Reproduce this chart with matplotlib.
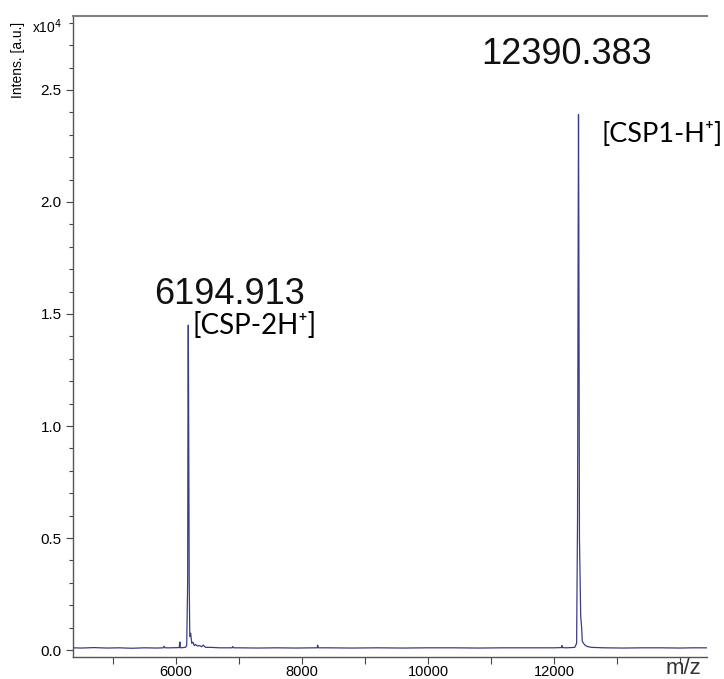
import numpy as np
import matplotlib
matplotlib.use("Agg")
import matplotlib.pyplot as plt
from matplotlib.ticker import MultipleLocator, FixedLocator, FormatStrFormatter

# spectrum (m/z, intensity in 1e4 a.u.)
MZ = [4360, 4500, 4700, 4900, 5100, 5300, 5500, 5700, 5800, 5810, 5830, 5900,
      6050, 6062, 6068, 6075, 6150, 6170, 6185, 6190, 6195, 6200, 6210, 6218,
      6224, 6232, 6250, 6270, 6290, 6310, 6340, 6370, 6410, 6430, 6470, 6550,
      6700, 6890, 6900, 6915, 7000, 7300, 7600, 7900, 8200, 8240, 8250, 8262,
      8400, 8800, 9200, 9600, 10000, 10400, 10800, 11200, 11600, 12000, 12120,
      12128, 12136, 12200, 12330, 12360, 12375, 12385, 12390, 12395, 12405,
      12425, 12440, 12450, 12470, 12500, 12540, 12600, 12800, 13100, 13400,
      13700, 14000, 14200, 14430]
INT = [0.010, 0.009, 0.011, 0.009, 0.010, 0.008, 0.010, 0.009, 0.010, 0.017, 0.010, 0.010,
       0.011, 0.036, 0.011, 0.010, 0.012, 0.020, 0.300, 1.100, 1.450, 1.100, 0.300, 0.080,
       0.060, 0.075, 0.030, 0.035, 0.020, 0.025, 0.018, 0.020, 0.015, 0.022, 0.012, 0.012,
       0.010, 0.010, 0.016, 0.010, 0.010, 0.009, 0.010, 0.009, 0.010, 0.010, 0.022, 0.010,
       0.010, 0.009, 0.010, 0.009, 0.010, 0.010, 0.009, 0.010, 0.010, 0.010, 0.011,
       0.020, 0.011, 0.010, 0.012, 0.030, 0.600, 1.900, 2.390, 1.900, 0.500,
       0.150, 0.100, 0.040, 0.030, 0.020, 0.015, 0.012, 0.010, 0.009, 0.010,
       0.010, 0.009, 0.010, 0.010]

PEAKS = [6194.913, 12390.383]
PEAK_LABELS = ["[CSP-2H\u207a]", "[CSP1-H\u207a]"]
XTICKS = [6000, 8000, 10000, 12000]

fig = plt.figure(figsize=(7.24, 6.79), dpi=100)
ax = fig.add_axes([72.7 / 724, 1 - 657 / 679, (707 - 72.7) / 724, (657 - 16) / 679])
ax.plot(MZ, INT, color="#3a3d84", lw=0.9)

ax.set_xlim(4360, 14430)
ax.set_ylim(-0.031, 2.83)
ax.xaxis.set_major_locator(FixedLocator(XTICKS))
ax.xaxis.set_minor_locator(MultipleLocator(1000))
ax.yaxis.set_major_locator(MultipleLocator(0.5))
ax.yaxis.set_minor_locator(MultipleLocator(0.1))
ax.yaxis.set_major_formatter(FormatStrFormatter("%.1f"))

tf = "Liberation Sans"
for lab in ax.get_xticklabels() + ax.get_yticklabels():
    lab.set_fontfamily(tf)
ax.tick_params(which="both", direction="out", color="#444444", width=0.8)
ax.tick_params(axis="y", which="major", length=5, labelsize=11, pad=3)
ax.tick_params(axis="y", which="minor", length=3)
ax.tick_params(axis="x", which="both", length=5, labelsize=10.5, pad=1)
ax.spines["right"].set_visible(False)
ax.spines["top"].set_color("#808080")
ax.spines["top"].set_linewidth(1.5)
for s in ("left", "bottom"):
    ax.spines[s].set_color("#555555")
    ax.spines[s].set_linewidth(1.0)

fig.text(18 / 724, 1 - 60 / 679, "Intens. [a.u.]", rotation=90, ha="center", va="center",
         fontsize=10, family=tf)
fig.text(47 / 724, 1 - 27 / 679, "x10$^4$", ha="center", va="center", fontsize=10, family=tf)
fig.text(683 / 724, 1 - 669 / 679, "m/z", ha="center", va="center", fontsize=16, family=tf,
         color="#333333")

# peak annotations
ax.text(6857, 1.585, f"{PEAKS[0]:.3f}", ha="center", va="center", fontsize=26, family=tf,
        color="#111111")
ax.text(6254, 1.45, PEAK_LABELS[0], ha="left", va="center", fontsize=20,
        family=["Lato", "DejaVu Sans"])
ax.text(12200, 2.66, f"{PEAKS[1]:.3f}", ha="center", va="center", fontsize=26, family=tf,
        color="#111111")
ax.text(12760, 2.30, PEAK_LABELS[1], ha="left", va="center", fontsize=19.5,
        family=["Lato", "DejaVu Sans"])

fig.savefig("out.png", dpi=100)
